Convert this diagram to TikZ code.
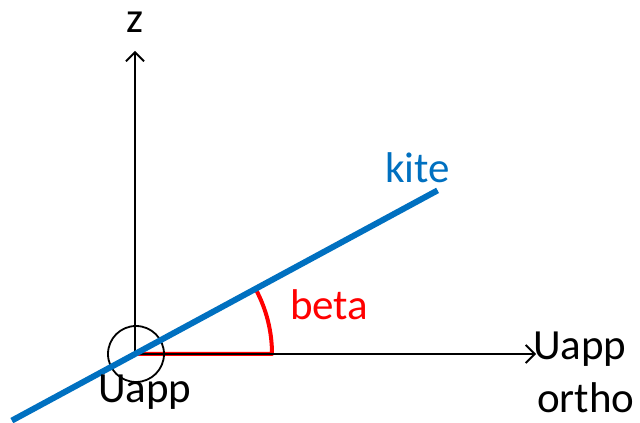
\documentclass[tikz,border=0pt]{standalone}
\usepackage{fontspec}
\setmainfont{Carlito}
\usetikzlibrary{arrows.meta,calc}
\definecolor{kiteblue}{HTML}{0070C0}
\begin{document}
\begin{tikzpicture}[x=1pt,y=1pt,
  lbl/.style={inner sep=0pt, anchor=base west, font=\fontsize{43}{43}\selectfont},
  axis/.style={draw=black, line width=1.8pt, -{Straight Barb[length=9pt,width=18pt,line width=1.8pt]}}]
\useasboundingbox (0,0) rectangle (640,423);
\coordinate (O) at (135,69);
\coordinate (ztip) at (135,372);
\coordinate (xtip) at (536,69);
\coordinate (kA) at ($(O)+(208.4:140)$);
\coordinate (kB) at ($(O)+(28.4:344)$);
% angle beta
\draw[red, line width=4pt, line join=round] (O) -- ++(137,0) arc[start angle=0, end angle=28.4, radius=137] -- cycle;
% axes
\draw[axis] (O) -- (ztip);
\draw[axis] (O) -- (xtip);
\node[draw=black, line width=1.8pt, circle, minimum size=56pt, inner sep=0pt] (c) at (136,69) {};
% kite line
\draw[kiteblue, line width=6pt] (kA) -- (kB);
% labels
\node[lbl, anchor=base] (z) at (135,390) {z};
\node[lbl, text=kiteblue] (kite) at (385,240) {kite};
\node[lbl, text=red] (beta) at (290,103) {beta};
\node[lbl] (u1) at (98,20) {Uapp};
\node[lbl] (u2) at (533,63) {Uapp};
\node[lbl] (u3) at (537,10) {ortho};
\end{tikzpicture}
\end{document}
